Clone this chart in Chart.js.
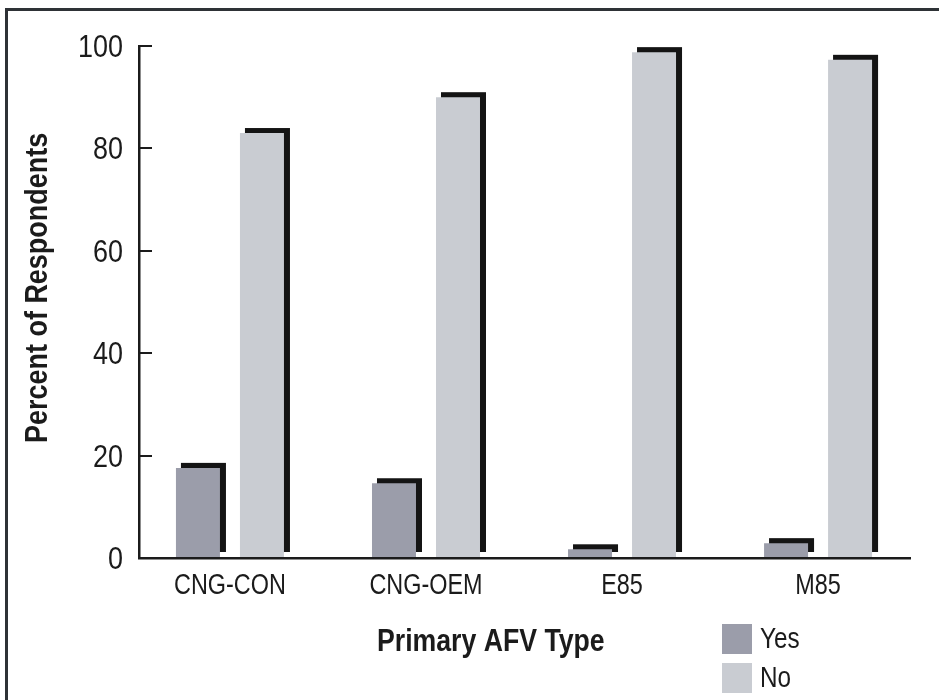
<!DOCTYPE html>
<html>
<head>
<meta charset="utf-8">
<script src="https://cdn.jsdelivr.net/npm/chart.js@4.4.1/dist/chart.umd.min.js"></script>
<style>
  html, body { margin: 0; padding: 0; background: #ffffff; }
  canvas { display: block; }
</style>
</head>
<body>
<canvas id="chart" width="939" height="700"></canvas>
<script>
// Survey answers by primary AFV type (percent of respondents)
const categories = ['CNG-CON', 'CNG-OEM', 'E85', 'M85'];
const yesValues = [17.6, 14.6, 1.7, 2.9];
const noValues = [83.0, 90.0, 98.8, 97.3];
const yTickValues = [0, 20, 40, 60, 80, 100];
const seriesNames = ['Yes', 'No'];
const xTitle = 'Primary AFV Type';
const yTitle = 'Percent of Respondents';

const FONT = "'Liberation Sans', Arial, sans-serif";
const INK = '#1b1b1b';
const SERIES_COLORS = ['#9b9daa', '#c9ccd2'];

// Text squeezed horizontally to get a condensed face
function narrowText(ctx, text, x, y, opts) {
  ctx.save();
  ctx.translate(x, y);
  if (opts.rotate) ctx.rotate(opts.rotate);
  ctx.scale(opts.squeeze, 1);
  ctx.font = opts.font;
  ctx.fillStyle = INK;
  ctx.textAlign = opts.align || 'left';
  ctx.textBaseline = 'alphabetic';
  ctx.fillText(text, 0, 0);
  ctx.restore();
}

// Dark drop shadow offset up and to the right of every bar
const barShadow = {
  id: 'barShadow',
  beforeDatasetsDraw(chart) {
    const ctx = chart.ctx;
    ctx.save();
    ctx.fillStyle = '#141414';
    chart.data.datasets.forEach((ds, di) => {
      chart.getDatasetMeta(di).data.forEach(bar => {
        const p = bar.getProps(['x', 'y', 'base', 'width'], true);
        const left = p.x - p.width / 2;
        ctx.fillRect(left + 5, p.y - 5, p.width + 1, p.base - p.y);
      });
    });
    ctx.restore();
  }
};

// Frame, tick labels, axis titles and the stacked legend
const decorations = {
  id: 'decorations',
  afterDraw(chart) {
    const ctx = chart.ctx;
    const xs = chart.scales.x;
    const ys = chart.scales.y;
    ctx.save();
    ctx.fillStyle = '#2e3236';
    ctx.fillRect(5, 8, chart.width - 5, 3);
    ctx.fillRect(5, 8, 3, chart.height - 8);
    ctx.restore();

    ys.ticks.forEach(t => {
      narrowText(ctx, String(t.value), ys.right - 16, ys.getPixelForValue(t.value) + 11,
        { font: `31px ${FONT}`, squeeze: 0.87, align: 'right' });
    });
    xs.ticks.forEach(t => {
      narrowText(ctx, categories[t.value], xs.getPixelForValue(t.value), xs.top + 36,
        { font: `30px ${FONT}`, squeeze: 0.78, align: 'center' });
    });

    narrowText(ctx, xTitle, 377, 651, { font: `bold 31px ${FONT}`, squeeze: 0.86 });
    narrowText(ctx, yTitle, 47, 443, { font: `bold 31px ${FONT}`, squeeze: 0.87, rotate: -Math.PI / 2 });

    chart.data.datasets.forEach((ds, i) => {
      const top = 624 + i * 39;
      ctx.fillStyle = ds.backgroundColor;
      ctx.fillRect(722, top, 30, 30);
      narrowText(ctx, ds.label, 760, top + 24, { font: `30px ${FONT}`, squeeze: 0.81 });
    });
  }
};

new Chart(document.getElementById('chart'), {
  type: 'bar',
  data: {
    datasets: [
      {
        label: seriesNames[0],
        data: yesValues.map((v, i) => ({ x: i, y: v })),
        backgroundColor: SERIES_COLORS[0]
      },
      {
        label: seriesNames[1],
        data: noValues.map((v, i) => ({ x: i, y: v })),
        backgroundColor: SERIES_COLORS[1]
      }
    ]
  },
  options: {
    responsive: false,
    animation: false,
    devicePixelRatio: 1,
    categoryPercentage: 0.653,
    barPercentage: 0.6875,
    layout: { padding: { top: 46, right: 29, left: 0, bottom: 0 } },
    plugins: {
      legend: { display: false },
      tooltip: { enabled: false }
    },
    scales: {
      x: {
        type: 'linear',
        offset: false,
        min: -0.464,
        max: 3.469,
        afterBuildTicks: s => { s.ticks = categories.map((_, i) => ({ value: i })); },
        afterFit: s => { s.height = 142; },
        ticks: { display: false },
        grid: { display: true, offset: false, drawOnChartArea: false, drawTicks: false, color: 'rgba(0,0,0,0)' },
        border: { display: true, color: INK, width: 2.5 }
      },
      y: {
        min: 0,
        max: 100,
        afterBuildTicks: s => { s.ticks = yTickValues.map(v => ({ value: v })); },
        afterFit: s => { s.width = 139; },
        ticks: { display: false },
        grid: { drawOnChartArea: false, drawTicks: true, tickLength: -13, color: INK, lineWidth: 2 },
        border: { display: true, color: INK, width: 2.5 }
      }
    }
  },
  plugins: [barShadow, decorations]
});
</script>
</body>
</html>
